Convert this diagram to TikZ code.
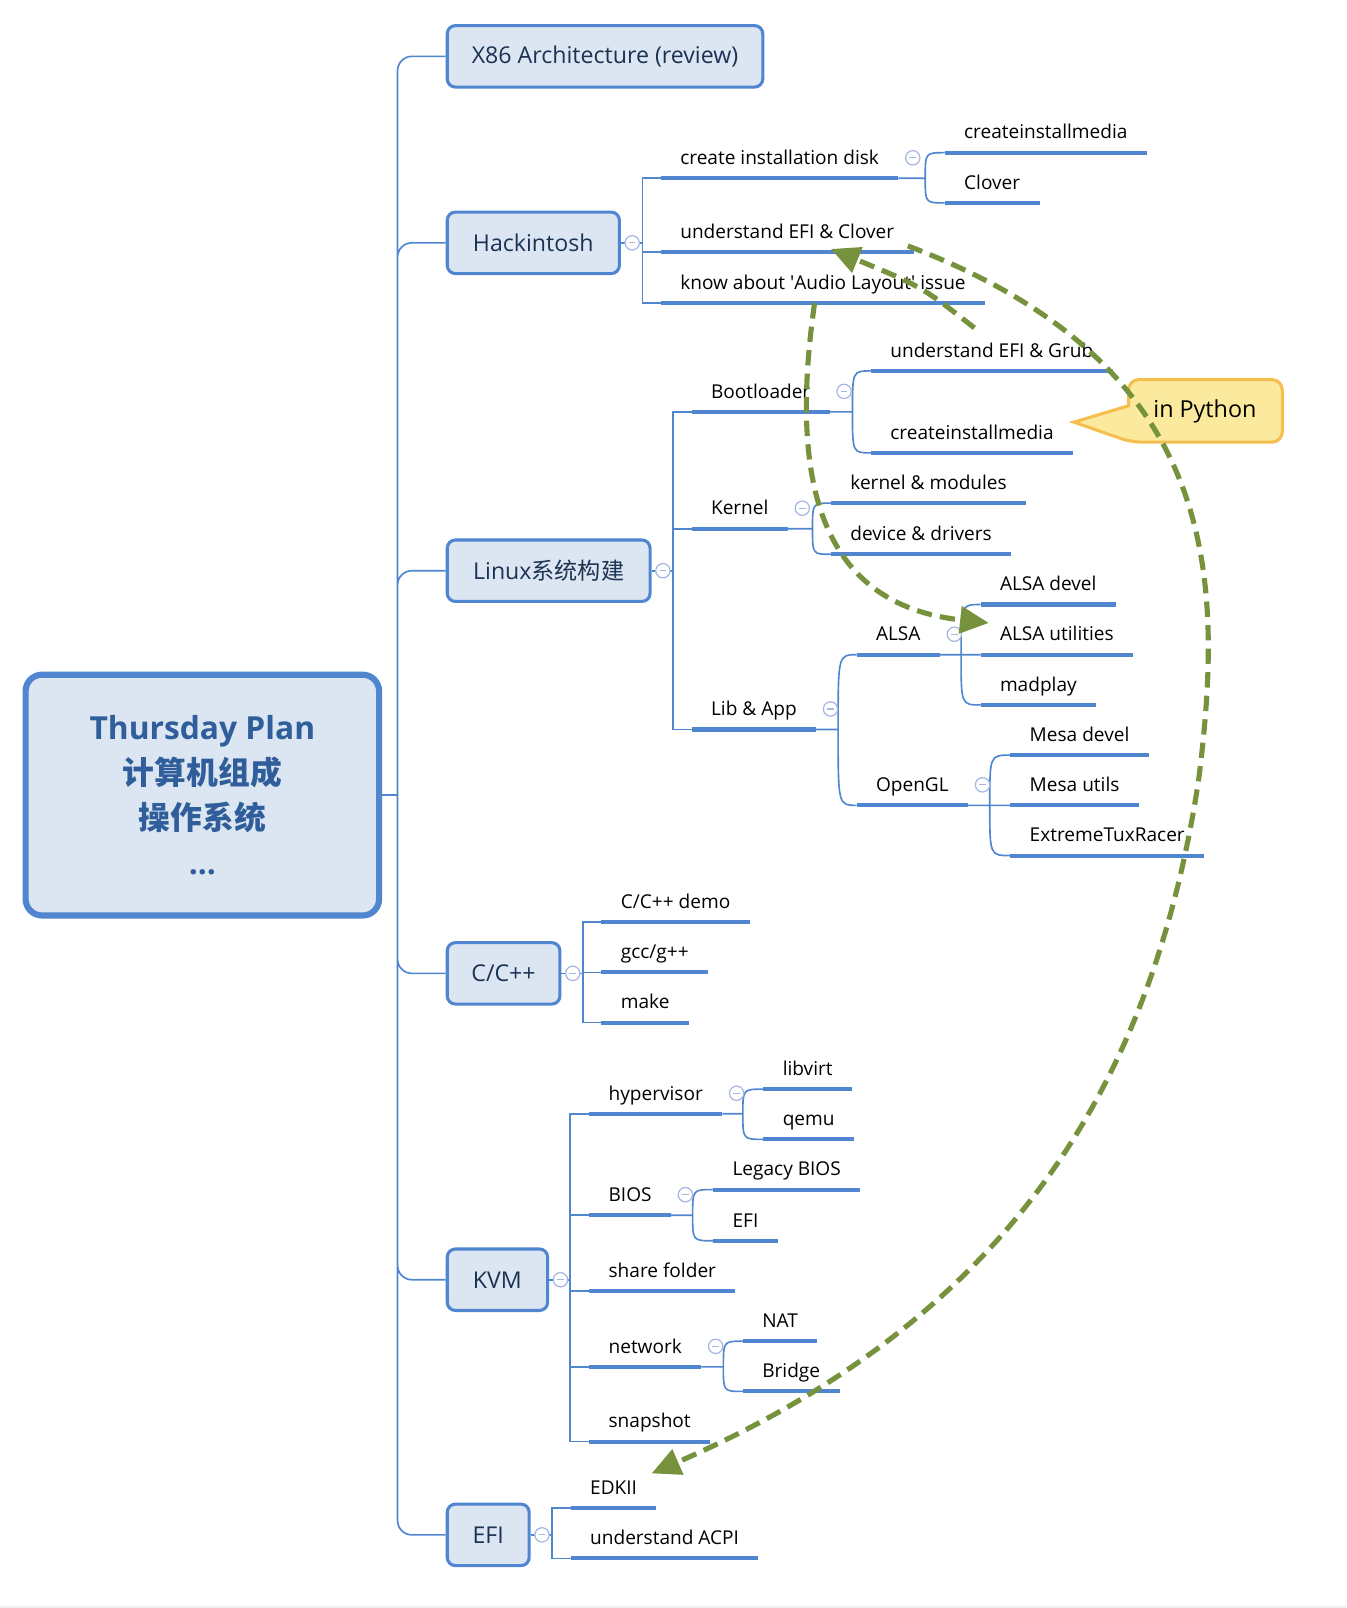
\documentclass[tikz,border=0pt]{standalone}
\usepackage{fontspec}
\setmainfont{Open Sans}
\newfontfamily\cjk{Noto Sans CJK SC}
\usepackage{tikz}
\usetikzlibrary{arrows.meta}
\definecolor{linkblue}{HTML}{4F86CF}
\definecolor{boxfill}{HTML}{DCE6F2}
\definecolor{boxtext}{HTML}{1C3253}
\definecolor{roottext}{HTML}{2F5E9B}
\definecolor{foldblue}{HTML}{A6B6E2}
\definecolor{olive}{HTML}{76923C}
\definecolor{pyfill}{HTML}{FBEA9D}
\definecolor{pyedge}{HTML}{F5BE4E}
\tikzset{>={Triangle[length=14pt,width=13pt]}}

\begin{document}
\begin{tikzpicture}[x=0.5pt,y=-0.5pt,
	root/.style={draw=linkblue,line width=3pt,fill=boxfill,rounded corners=8pt,minimum width=172.5pt,minimum height=117.5pt,align=center,text=roottext,font=\bfseries\fontsize{15.5}{22}\selectfont},
	main/.style={draw=linkblue,line width=1.5pt,fill=boxfill,rounded corners=4pt,minimum height=30pt,text=boxtext,font=\fontsize{11.3}{13}\selectfont},
	topic/.style={anchor=south west,inner xsep=9.5pt,inner ysep=4.2pt,outer sep=0pt,text depth=2.5pt,font=\fontsize{9.3}{11}\selectfont,append after command={(\tikzlastnode.south west) edge[uline] (\tikzlastnode.south east)}},
	uline/.style={draw=linkblue,line width=2pt},
	link/.style={draw=linkblue,line width=0.8pt},
	fold/.style={circle,draw=foldblue,fill=white,line width=0.6pt,minimum size=7pt,inner sep=0pt,path picture={\draw[foldblue,line width=0.6pt] ([xshift=-1.6pt]path picture bounding box.center) -- ([xshift=1.6pt]path picture bounding box.center);}},
	pybox/.style={fill=pyfill,draw=pyedge,line width=1.5pt},
	hint/.style={olive,line width=2.5pt,dash pattern=on 7.5pt off 4pt,->}]
	\useasboundingbox (0,0) rectangle (1314,1569.4);
	\fill[gray!12] (0,1567) rectangle (1314,1569.4);

	% centre and first level
	\node[root] (plan) at (197.5,776) {Thursday Plan\\{\cjk 计算机组成}\\{\cjk 操作系统}\\...};
	\node[main,minimum width=154pt] (x86) at (590.5,55) {X86 Architecture (review)};
	\node[main,minimum width=84pt] (hack) at (520.5,237) {Hackintosh};
	\node[main,minimum width=99pt] (linux) at (535.5,557) {Linux{\cjk 系统构建}};
	\node[main,minimum width=55pt] (cpp) at (491.5,950) {C/C++};
	\node[main,minimum width=49pt] (kvm) at (485.5,1249) {KVM};
	\node[main,minimum width=40pt] (efi) at (476.5,1498) {EFI};
	\coordinate (trunk) at ([xshift=7.5pt]plan.east);
	\draw[link] (plan.east)--(trunk);
	\draw[link,rounded corners=7pt] (trunk)|-(x86.west) (trunk)|-(hack.west) (trunk)|-(linux.west)
		(trunk)|-(cpp.west) (trunk)|-(kvm.west) (trunk)|-(efi.west);

	% Hackintosh
	\node[topic] (hk1) at (645,174) {create installation disk};
	\node[topic] (hk2) at (645,246) {understand EFI \& Clover};
	\node[topic] (hk3) at (645,296) {know about \textquotesingle Audio Layout\textquotesingle{} issue};
	\node[topic] (hk11) at (922,149) {createinstallmedia};
	\node[topic] (hk12) at (922,198) {Clover};
	\coordinate (hackj) at ([xshift=10.5pt]hack.east);
	\coordinate (hk1j) at (903,174);
	\draw[link] (hack.east)--(hackj) (hackj)|-(hk1.south west) (hackj)|-(hk2.south west) (hackj)|-(hk3.south west);
	\draw[link] (hk1.south east)--(hk1j) .. controls (hk1j|-hk11.south west) .. (hk11.south west)
		(hk1j) .. controls (hk1j|-hk12.south west) .. (hk12.south west);

	% Linux
	\node[topic] (lx1) at (675,402) {Bootloader};
	\node[topic] (lx2) at (675,516) {Kernel};
	\node[topic] (lx3) at (675,712) {Lib \& App};
	\node[topic] (lx11) at (850,362) {understand EFI \& Grub};
	\node[topic] (lx12) at (850,442) {createinstallmedia};
	\node[topic] (lx21) at (811,491) {kernel \& modules};
	\node[topic] (lx22) at (811,541) {device \& drivers};
	\node[topic] (lx31) at (836,639) {ALSA};
	\node[topic] (lx32) at (836,786) {OpenGL};
	\node[topic] (lx311) at (957,590) {ALSA devel};
	\node[topic] (lx312) at (957,639) {ALSA utilities};
	\node[topic] (lx313) at (957,688) {madplay};
	\node[topic] (lx321) at (986,737) {Mesa devel};
	\node[topic] (lx322) at (986,786) {Mesa utils};
	\node[topic] (lx323) at (986,835) {ExtremeTuxRacer};
	\coordinate (linuxj) at ([xshift=10.5pt]linux.east);
	\coordinate (lx1j) at (832,402);
	\coordinate (lx2j) at (793,516);
	\coordinate (lx3j) at (818,712);
	\coordinate (lx31j) at (938,639);
	\coordinate (lx32j) at (966,786);
	\draw[link] (linux.east)--(linuxj) (linuxj)|-(lx1.south west) (linuxj)|-(lx2.south west) (linuxj)|-(lx3.south west);
	\draw[link] (lx1.south east)--(lx1j) .. controls (lx1j|-lx11.south west) .. (lx11.south west)
		(lx1j) .. controls (lx1j|-lx12.south west) .. (lx12.south west);
	\draw[link] (lx2.south east)--(lx2j) .. controls (lx2j|-lx21.south west) .. (lx21.south west)
		(lx2j) .. controls (lx2j|-lx22.south west) .. (lx22.south west);
	\draw[link] (lx3.south east)--(lx3j) .. controls (lx3j|-lx31.south west) .. (lx31.south west)
		(lx3j) .. controls (lx3j|-lx32.south west) .. (lx32.south west);
	\draw[link] (lx31.south east)--(lx31j) .. controls (lx31j|-lx311.south west) .. (lx311.south west)
		(lx31j)--(lx312.south west) (lx31j) .. controls (lx31j|-lx313.south west) .. (lx313.south west);
	\draw[link] (lx32.south east)--(lx32j) .. controls (lx32j|-lx321.south west) .. (lx321.south west)
		(lx32j)--(lx322.south west) (lx32j) .. controls (lx32j|-lx323.south west) .. (lx323.south west);

	% C/C++
	\node[topic] (cp1) at (587,900) {C/C++ demo};
	\node[topic] (cp2) at (587,949) {gcc/g++};
	\node[topic] (cp3) at (587,998) {make};
	\coordinate (cppj) at ([xshift=10.5pt]cpp.east);
	\draw[link] (cpp.east)--(cppj) (cppj)|-(cp1.south west) (cppj)|-(cp2.south west) (cppj)|-(cp3.south west);

	% KVM
	\node[topic] (kv1) at (575,1087) {hypervisor};
	\node[topic] (kv2) at (575,1186) {BIOS};
	\node[topic] (kv3) at (575,1260) {share folder};
	\node[topic] (kv4) at (575,1334) {network};
	\node[topic] (kv5) at (575,1407) {snapshot};
	\node[topic] (kv11) at (745,1063) {libvirt};
	\node[topic] (kv12) at (745,1112) {qemu};
	\node[topic] (kv21) at (696,1161) {Legacy BIOS};
	\node[topic] (kv22) at (696,1211) {EFI};
	\node[topic] (kv41) at (725,1309) {NAT};
	\node[topic] (kv42) at (725,1358) {Bridge};
	\coordinate (kvmj) at ([xshift=10pt]kvm.east);
	\coordinate (kv1j) at (725,1087);
	\coordinate (kv2j) at (676,1186);
	\coordinate (kv4j) at (706,1334);
	\draw[link] (kvm.east)--(kvmj) (kvmj)|-(kv1.south west) (kvmj)|-(kv2.south west) (kvmj)|-(kv3.south west)
		(kvmj)|-(kv4.south west) (kvmj)|-(kv5.south west);
	\draw[link] (kv1.south east)--(kv1j) .. controls (kv1j|-kv11.south west) .. (kv11.south west)
		(kv1j) .. controls (kv1j|-kv12.south west) .. (kv12.south west);
	\draw[link] (kv2.south east)--(kv2j) .. controls (kv2j|-kv21.south west) .. (kv21.south west)
		(kv2j) .. controls (kv2j|-kv22.south west) .. (kv22.south west);
	\draw[link] (kv4.south east)--(kv4j) .. controls (kv4j|-kv41.south west) .. (kv41.south west)
		(kv4j) .. controls (kv4j|-kv42.south west) .. (kv42.south west);

	% EFI
	\node[topic] (ef1) at (557,1472) {EDKII};
	\node[topic] (ef2) at (557,1521) {understand ACPI};
	\coordinate (efij) at ([xshift=10.5pt]efi.east);
	\draw[link] (efi.east)--(efij) (efij)|-(ef1.south west) (efij)|-(ef2.south west);

	% fold marks
	\node[fold] (hackf) at ([xshift=5.5pt]hack.east) {};
	\node[fold] (linuxf) at ([xshift=5.5pt]linux.east) {};
	\node[fold] (cppf) at ([xshift=5.5pt]cpp.east) {};
	\node[fold] (kvmf) at ([xshift=5.5pt]kvm.east) {};
	\node[fold] (efif) at ([xshift=5.5pt]efi.east) {};
	\node[fold] (hk1f) at ([shift={(7pt,10pt)}]hk1.south east) {};
	\node[fold] (lx1f) at ([shift={(7pt,10pt)}]lx1.south east) {};
	\node[fold] (lx2f) at ([shift={(7pt,10pt)}]lx2.south east) {};
	\node[fold] (lx3f) at ([shift={(7pt,10pt)}]lx3.south east) {};
	\node[fold] (lx31f) at ([shift={(7pt,10pt)}]lx31.south east) {};
	\node[fold] (lx32f) at ([shift={(7pt,10pt)}]lx32.south east) {};
	\node[fold] (kv1f) at ([shift={(7pt,10pt)}]kv1.south east) {};
	\node[fold] (kv2f) at ([shift={(7pt,10pt)}]kv2.south east) {};
	\node[fold] (kv4f) at ([shift={(7pt,10pt)}]kv4.south east) {};

	% callout
	\draw[pybox] (1048,412)--(1101.5,396) [rounded corners=5pt]--(1101.5,370.5)--(1251.5,370.5)--(1251.5,431.5)--(1104,431.5) [sharp corners]--cycle;
	\node[font=\fontsize{11.4}{13}\selectfont] (py) at (1176,402) {in Python};

	% dashed hints
	\coordinate (g1s) at (951,320);
	\coordinate (g1e) at (811,243);
	\coordinate (g2s) at (795,296);
	\coordinate (g2e) at (965,608);
	\coordinate (g3s) at (886,240);
	\coordinate (g3e) at (636,1438);
	\draw[hint] (g1s) .. controls (900,280) .. (g1e);
	\draw[hint] (g2s) .. controls (770,470) and (800,590) .. (g2e);
	\draw[hint] (g3s) .. controls (1190,355) and (1195,560) .. (1170,760) .. controls (1125,1060) and (983,1287) .. (g3e);
\end{tikzpicture}
\end{document}
